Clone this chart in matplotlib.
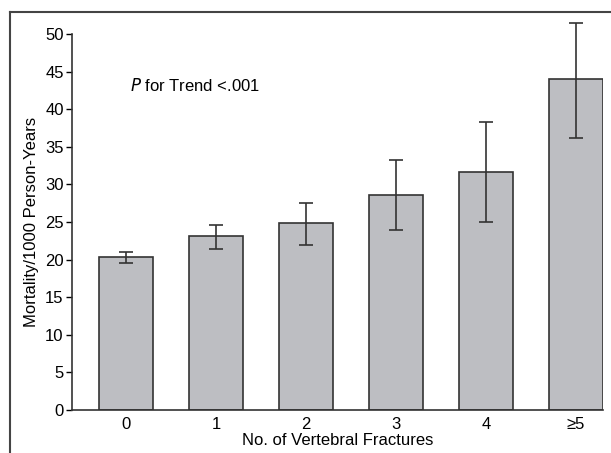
import matplotlib.pyplot as plt
from matplotlib.lines import Line2D

# Mortality by number of vertebral fractures
categories = ["0", "1", "2", "3", "4", "\u22655"]
rates = [20.4, 23.1, 24.8, 28.6, 31.7, 44.0]
ci_low = [19.6, 21.45, 22.0, 23.9, 25.0, 36.2]
ci_high = [21.05, 24.55, 27.5, 33.2, 38.3, 51.4]

plt.rcParams['font.family'] = ['Liberation Sans Narrow', 'Liberation Sans', 'DejaVu Sans']

fig = plt.figure(figsize=(6.11, 4.53), dpi=100)
ax = fig.add_axes([0.1178, 0.0949, 0.8691, 0.8301])

x = list(range(len(categories)))
yerr = [[r - lo for r, lo in zip(rates, ci_low)],
        [hi - r for r, hi in zip(rates, ci_high)]]

ax.bar(x, rates, width=0.6, color="#bdbec2", edgecolor="#333333", linewidth=1.2, zorder=2)
eb = ax.errorbar(x, rates, yerr=yerr, fmt="none", ecolor="#333333", elinewidth=1.2,
                 capsize=4.7, capthick=1.2, zorder=3)
for part in eb.lines[1] + eb.lines[2]:
    part.set_clip_on(False)

ax.set_xlim(-0.606, 5.3)
ax.set_ylim(0, 50)
ax.set_yticks(range(0, 51, 5))
ax.set_xticks(x)
ax.set_xticklabels(categories)
ax.tick_params(axis="y", direction="out", length=4, width=1, labelsize=12, pad=2)
ax.tick_params(axis="x", length=0, labelsize=12, pad=5)
for s in ["top", "right"]:
    ax.spines[s].set_visible(False)
for s in ["left", "bottom"]:
    ax.spines[s].set_linewidth(1.2)
    ax.spines[s].set_color("#333333")

ax.set_ylabel("Mortality/1000 Person-Years", fontsize=12, labelpad=4)
ax.set_xlabel("No. of Vertebral Fractures", fontsize=12, labelpad=1)

ax.text(0.04, 43.1, r"$\it{P}$ for Trend <.001", fontsize=12, va="center", ha="left")

# outer frame, cut off at right and bottom
fig.add_artist(Line2D([10 / 611, 1], [1 - 12 / 453, 1 - 12 / 453], color="#444444", lw=1.5))
fig.add_artist(Line2D([10 / 611, 10 / 611], [0, 1 - 12 / 453], color="#444444", lw=1.5))

fig.savefig("out.png", dpi=100)
